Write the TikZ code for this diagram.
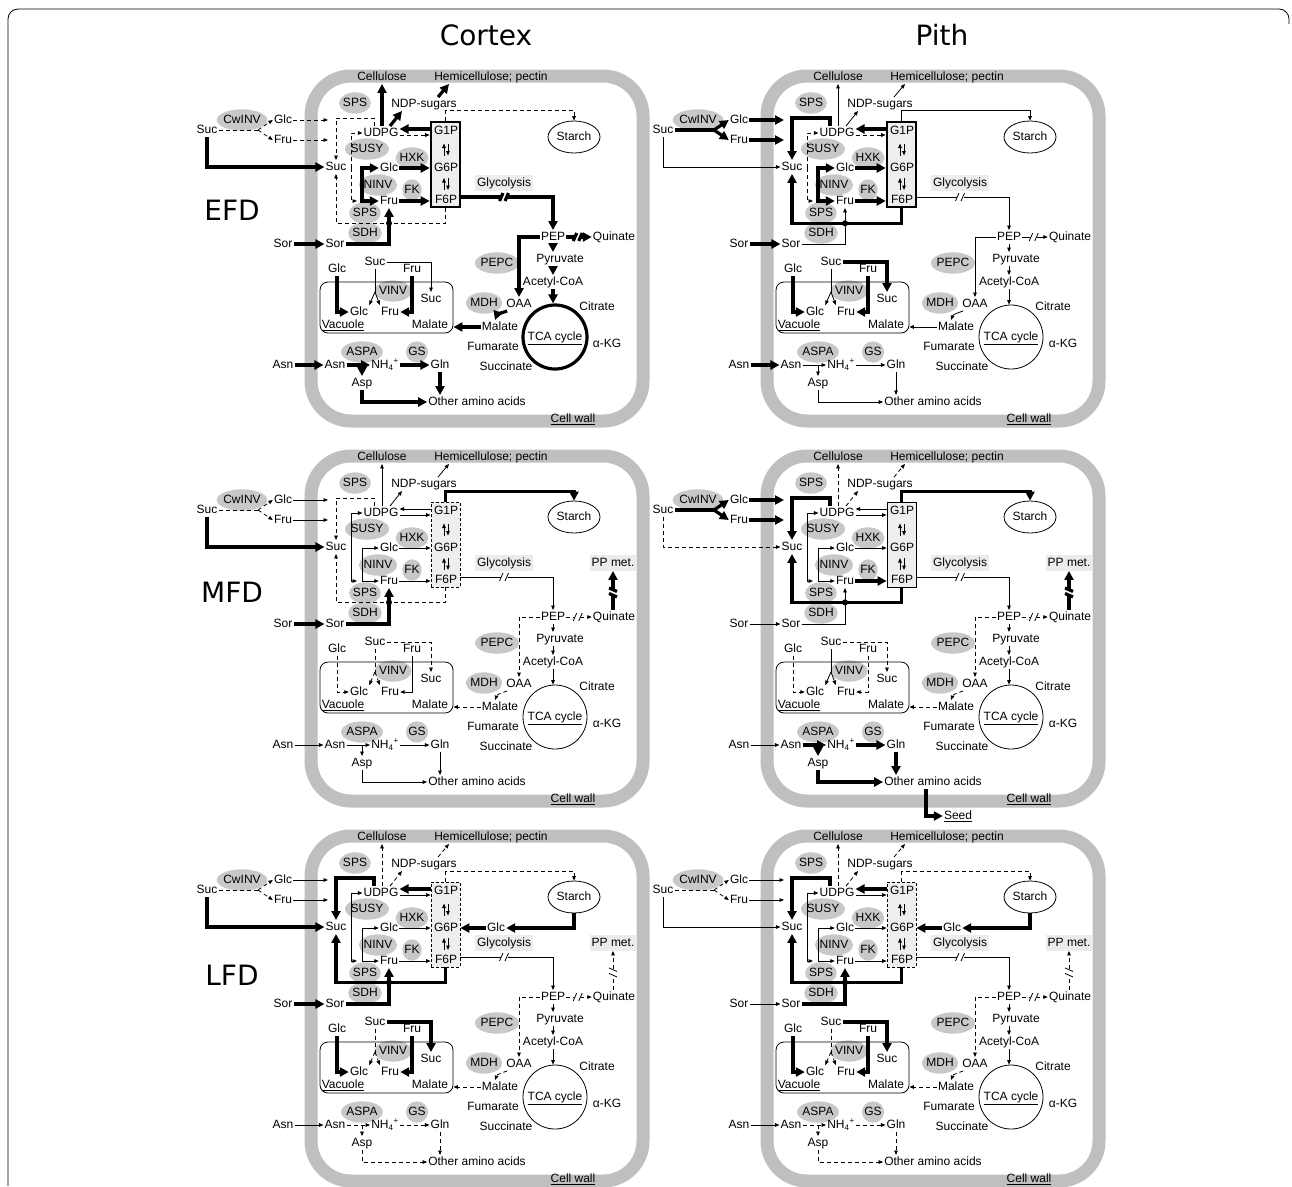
\documentclass[tikz,border=0pt]{standalone}
\usepackage{fontspec}
\setmainfont{Liberation Sans}
\newfontfamily\headfont{DejaVu Sans}
\usetikzlibrary{arrows.meta,calc,shapes.geometric}
\definecolor{wallgray}{RGB}{191,191,191}
\definecolor{enzfill}{RGB}{200,200,200}
\definecolor{poolfill}{RGB}{238,238,238}
\definecolor{tagfill}{RGB}{236,236,236}
\newcommand{\lblfont}{\fontsize{12}{14}\selectfont}

\tikzset{
  thk/.style={line width=3.2pt, solid, >={Triangle[length=9pt,width=9pt]}},
  thn/.style={line width=0.8pt, solid, >={Triangle[length=4.5pt,width=3.6pt]}},
  dsh/.style={line width=0.8pt, dash pattern=on 4pt off 3pt, >={Triangle[length=4.5pt,width=3.6pt]}},
  bxthk/.style={draw, line width=2.6pt, fill=poolfill},
  bxthn/.style={draw, line width=0.8pt, fill=poolfill},
  bxdsh/.style={draw, line width=0.8pt, dash pattern=on 3pt off 2pt, fill=poolfill},
  mkthn/.style={flow #1/.style=thn},
  mkthk/.style={flow #1/.style=thk},
  mkdsh/.style={flow #1/.style=dsh},
  heavy flows/.style={mkthk/.list={#1}},
  dash flows/.style={mkdsh/.list={#1}},
  mkthn/.list={cwinv,cwin,sucin,sps1,susy,ninv,hxk,fk,gu,ug,cell,starch,sps2,sor,sdh,glyc,quin,pp,pyr,pepc,mdh,mal,tca,vglc,vfru,vsuc,vinv,asnin,aspa,gs,asp,gln},
  flow box/.style=bxthn,
  brk/.pic={
    \fill[white] (-3.5,-5.5) rectangle (3.5,5.5);
    \draw[solid] (-4.5,4) -- (-1,-4) (1,4) -- (4.5,-4);
  }
}

% one cell: #1 shift, #2 name prefix, #3 flow styles, #4 extra parts
\newcommand{\cellpanel}[4]{%
\begin{scope}[shift={#1}, name prefix=#2-, #3]
  % cell wall
  \draw[wall] (311,76) rectangle (643,421);
  \node (cellu) at (382,77) {Cellulose};
  \node (hemi)  at (491,77) {Hemicellulose; pectin};
  \node (cwall) at (573,419) {\underline{Cell wall}};

  % hexose phosphate pool
  \node[flow box, minimum width=29pt, minimum height=85pt] (hxbox) at (445.5,164.5) {};
  \node (g1p) at (446,131) {G1P};
  \node (g6p) at (446,168) {G6P};
  \node (f6p) at (446,200) {F6P};

  % enzymes
  \node[enz] (cwinv) at (242,120) {CwINV};
  \node[enz] (sps1)  at (355,103) {SPS};
  \node[enz] (susy)  at (367,149) {SUSY};
  \node[enz] (hxk)   at (412,158) {HXK};
  \node[enz] (ninv)  at (378,185) {NINV};
  \node[enz] (fk)    at (412,190) {FK};
  \node[enz] (sps2)  at (365,213) {SPS};
  \node[enz] (sdh)   at (365,233) {SDH};
  \node[enz] (pepc)  at (497,263) {PEPC};
  \node[enz] (mdh)   at (484,303) {MDH};
  \node[enz] (vinv)  at (393,291) {VINV};
  \node[enz] (aspa)  at (362,352) {ASPA};
  \node[enz] (gs)    at (417,352) {GS};

  % sugars
  \node (sucO) at (207,130) {Suc};
  \node (glcO) at (283,120) {Glc};
  \node (fruO) at (283,140) {Fru};
  \node (suc)  at (336,167) {Suc};
  \node (udpg) at (381,133) {UDPG};
  \node (glc)  at (389,168) {Glc};
  \node (fru)  at (389,201) {Fru};
  \node (ndp)  at (424,104) {NDP-sugars};
  \node[store] (starch) at (574,137) {Starch};
  \node[grp] (glyco) at (504,183) {Glycolysis};
  \node (sorO) at (283,244) {Sor};
  \node (sor)  at (335,244) {Sor};

  % glycolysis and TCA cycle
  \node (pep)  at (553,237) {PEP};
  \node (quin) at (614,237) {Quinate};
  \node (pyr)  at (560,259) {Pyruvate};
  \node (acoa) at (553,282) {Acetyl-CoA};
  \node[flow tca, draw, circle, minimum size=64pt] (tca) at (555,337) {\underline{TCA cycle}};
  \node (cit)  at (597,307) {Citrate};
  \node (akg)  at (607,344) {α-KG};
  \node (succ) at (506,367) {Succinate};
  \node (fum)  at (493,347) {Fumarate};
  \node (mal)  at (500,327) {Malate};
  \node (oaa)  at (519,304) {OAA};

  % vacuole
  \node[vacbox] (vac) at (386.5,307.5) {};
  \node (vlab)  at (343,325) {\underline{Vacuole}};
  \node (vmal)  at (430,325) {Malate};
  \node (vglcO) at (337,269) {Glc};
  \node (vsucO) at (375,262) {Suc};
  \node (vfruO) at (412,269) {Fru};
  \node (vglc)  at (359,312) {Glc};
  \node (vfru)  at (390,312) {Fru};
  \node (vsuc)  at (431,299) {Suc};

  % nitrogen
  \node (asnO) at (283,365) {Asn};
  \node (asn)  at (335,365) {Asn};
  \node (nh4)  at (385,365) {NH\textsubscript{4}\textsuperscript{+}};
  \node (gln)  at (440,365) {Gln};
  \node (asp)  at (362,383) {Asp};
  \node (aa)   at (477,402) {Other amino acids};

  % import and cell-wall invertase
  \coordinate (fork) at (258,130);
  \coordinate (glcE) at (328,120);
  \coordinate (fruE) at (328,140);
  \draw[flow cwinv] (sucO.east) -- (fork);
  \draw[flow cwinv,->] (fork) -- (glcO.west);
  \draw[flow cwinv,->] (fork) -- (fruO.west);
  \draw[flow cwin,->] (glcO.east) -- (glcE);
  \draw[flow cwin,->] (fruO.east) -- (fruE);
  \draw[flow sucin,->] (sucO.south) |- (suc.west);

  % sucrose cycle
  \draw[flow sps1,->] ([xshift=-7pt]udpg.north) -- ++(0,-8) -| (suc.north);
  \coordinate (susyA) at (351,168);
  \coordinate (susyF) at (357,201);
  \draw[flow susy,->] (susyA) |- (udpg.west);
  \draw[flow susy,->] (susyA) |- (susyF);
  \coordinate (ninvA) at (362,185);
  \draw[flow ninv,->] (ninvA) |- (glc.west);
  \draw[flow ninv,->] (ninvA) |- (fru.west);
  \draw[flow hxk,->] (glc.east) -- (glc.east -| hxbox.west);
  \draw[flow fk,->]  (fru.east) -- (fru.east -| hxbox.west);
  \coordinate (g1pW) at (hxbox.west |- g1p);
  \draw[flow gu,->] ([yshift=2pt]g1pW) -- ([yshift=4pt]udpg.east);
  \draw[flow ug,->] ([yshift=-2pt]udpg.east) -- ([yshift=-4pt]g1pW);
  \foreach \a/\b in {g1p/g6p,g6p/f6p} {
    \coordinate (mid) at ($(\a)!0.5!(\b)$);
    \draw[thn,->] ([shift={(-2,6)}]mid) -- ([shift={(-2,-6)}]mid);
    \draw[thn,->] ([shift={(2,-6)}]mid) -- ([shift={(2,6)}]mid);
  }

  % cell wall polymers
  \draw[flow cell,->] (udpg.north -| cellu.south) -- (cellu.south);
  \draw[flow cell,->] ([xshift=9pt]udpg.north) -- ([xshift=-22pt]ndp.south);
  \draw[flow cell,->] ([xshift=14pt]ndp.north) -- ([xshift=-42pt]hemi.south);

  % starch and F6P back to sucrose
  \draw[flow starch,->] (hxbox.north) -- ++(0,-10) -| (starch.north);
  \path (hxbox.south) ++(0,15) coordinate (spsB);
  \draw[flow sps2,->] (hxbox.south) -- (spsB) -| (suc.south);

  % sorbitol
  \draw[flow sor,->] (sorO.east) -- (sor.west);
  \draw[flow sdh,->] (sor.east) -| (fru.south);
  \fill (fru.south |- spsB) circle (3pt);

  % glycolysis
  \path (hxbox.east |- f6p) ++(0,-3) coordinate (glyA);
  \draw[flow glyc,->] (glyA) -| (pep.north);
  \pic[flow glyc] at (glyA -| glyco) {brk};
  \draw[flow quin,->] (pep.east) -- (quin.west);
  \pic[flow quin] at ($(pep.east)!0.45!(quin.west)$) {brk};
  \draw[flow pyr,->] (pep.south) -- (pep.south |- pyr.north);
  \draw[flow pyr,->] (pep.south |- pyr.south) -- (pep.south |- acoa.north);
  \draw[flow pyr,->] (pep.south |- acoa.south) -- (pep.south |- tca.north);
  \draw[flow pepc,->] (pep.west) -| (oaa.north);
  \draw[flow mdh,->] ([xshift=2pt]oaa.south west) to[out=200,in=70] ([xshift=-5pt]mal.north);
  \draw[flow mal,->] (mal.west) -- (mal.west -| vac.east);

  % vacuole transport and VINV
  \draw[flow vglc,->] (vglcO.south) |- (vglc.west);
  \draw[flow vfru,->] (vfruO.south) |- (vfru.east);
  \draw[flow vsuc,->] (vsucO.east) -| (vsuc.north);
  \coordinate (vfork) at (375,292);
  \draw[flow vinv] (vsucO.south) -- (vfork);
  \draw[flow vinv,->] (vfork) -- (vglc.north east);
  \draw[flow vinv,->] (vfork) -- (vfru.north west);

  % asparagine
  \draw[flow asnin,->] (asnO.east) -- (asn.west);
  \draw[flow aspa,->] (asn.east) -- (nh4.west);
  \draw[flow aspa,->] (asp.north |- asn.east) -- (asp.north);
  \draw[flow gs,->] (nh4.east) -- (gln.west);
  \draw[flow asp,->] (asp.south) |- (aa.west);
  \draw[flow gln,->] (gln.south) -- (gln.south |- aa.north);
  #4
\end{scope}}

\newcommand{\ppmet}{%
  \node[grp] (ppmet) at (613,183) {PP met.};
  \coordinate (qtop) at (quin.north -| ppmet.south);
  \draw[flow pp,->] (qtop) -- (ppmet.south);
  \pic[flow pp, rotate=90] at ($(qtop)!0.45!(ppmet.south)$) {brk};}

\newcommand{\starchglc}{%
  \node (sglc) at (496,168) {Glc};
  \draw[thk,->] (starch.south) |- (sglc.east);
  \draw[thk,->] (sglc.west) -- (sglc.west -| hxbox.east);}

\newcommand{\seedout}{%
  \node (seed) at (502,436) {\underline{Seed}};
  \draw[thk,->] ([xshift=-7pt]aa.south) |- (seed.west);}

\begin{document}
\begin{tikzpicture}[
  x=1pt, y=-1pt,
  font=\lblfont,
  every node/.style={inner sep=1pt, text height=9pt, text depth=2.5pt},
  enz/.style={ellipse, fill=enzfill, inner xsep=-0.8pt, inner ysep=1.8pt},
  store/.style={ellipse, draw, line width=0.8pt, minimum width=52pt, minimum height=32pt},
  grp/.style={fill=tagfill, inner sep=2pt},
  vacbox/.style={draw, line width=0.8pt, rounded corners=8pt, minimum width=133pt, minimum height=51pt},
  wall/.style={line width=13pt, draw=wallgray, rounded corners=40pt},
  title/.style={font=\headfont\fontsize{28}{30}\selectfont, text height=20pt, text depth=0pt}
]
\useasboundingbox (0,0) rectangle (1292,1186);
\draw[line width=0.8pt, rounded corners=10pt] (8,1186) -- (8,9) -- (1289,9) -- (1289,24);

\node[title] (cortex) at (486,35) {Cortex};
\node[title] (pith)   at (942,35) {Pith};
\node[title] (efd) at (232,210) {EFD};
\node[title] (mfd) at (232,592) {MFD};
\node[title] (lfd) at (232,975) {LFD};

% EFD
\cellpanel{(0,0)}{A}{%
heavy flows={sucin,ninv,hxk,fk,gu,cell,sor,sdh,glyc,quin,pyr,pepc,mdh,mal,tca,vglc,vfru,asnin,aspa,gs,asp,gln},%
dash flows={cwinv,cwin,sps1,susy,ug,starch,sps2},%
flow box/.style=bxthk}{}
\cellpanel{(456,0)}{B}{%
heavy flows={cwinv,cwin,sps1,ninv,hxk,fk,gu,sps2,sor,vglc,vfru,vsuc,asnin},%
dash flows={susy,ug},%
flow box/.style=bxthk}{}

% MFD
\cellpanel{(0,380)}{C}{%
heavy flows={sucin,starch,sor,sdh,pp},%
dash flows={cwinv,sps1,sps2,quin,pepc,mdh,mal,vglc,vsuc,vinv},%
flow box/.style=bxdsh}{\ppmet}
\cellpanel{(456,380)}{D}{%
heavy flows={cwinv,cwin,sps1,fk,starch,sps2,pp,aspa,gs,asp,gln},%
dash flows={sucin,cell,quin,pepc,mdh,mal,vglc,vfru,vsuc},%
flow box/.style=bxthn}{\ppmet\seedout}

% LFD
\cellpanel{(0,760)}{E}{%
heavy flows={sucin,sps1,gu,sps2,sor,sdh,vglc,vfru,vsuc},%
dash flows={cwinv,cell,starch,quin,pp,pepc,mdh,mal,vinv,aspa,gs,asp,gln},%
flow box/.style=bxdsh}{\ppmet\starchglc}
\cellpanel{(456,760)}{F}{%
heavy flows={sps1,gu,sps2,sdh,vglc,vfru,vsuc},%
dash flows={cwinv,cell,starch,quin,pp,pepc,mdh,mal,vinv,aspa,gs,asp,gln},%
flow box/.style=bxdsh}{\ppmet\starchglc}
\end{tikzpicture}
\end{document}
